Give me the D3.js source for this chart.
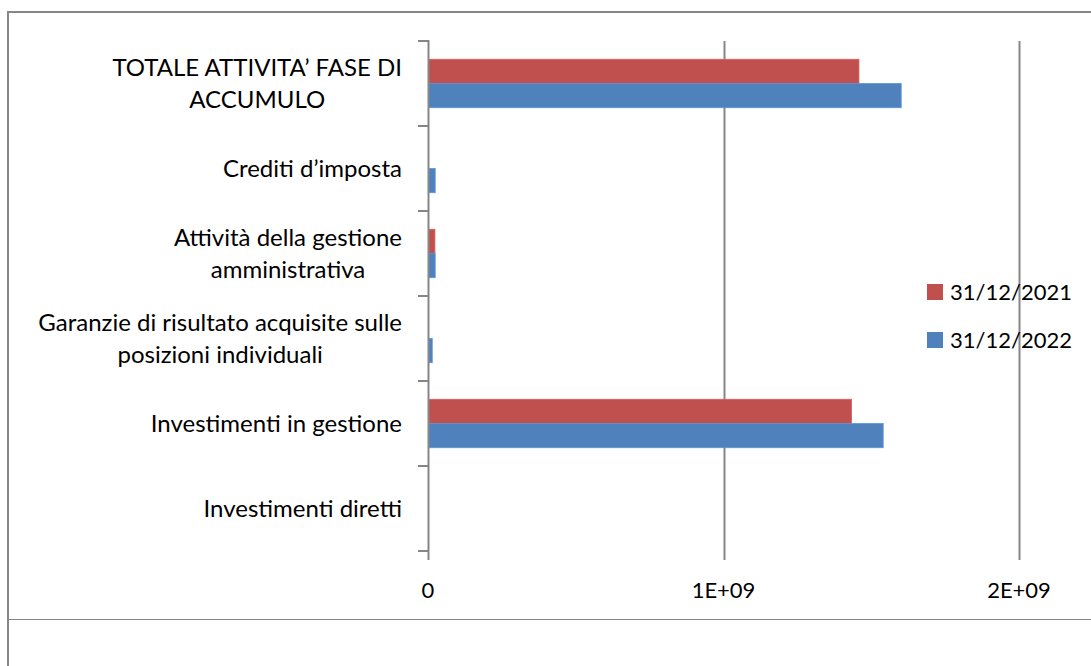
<!DOCTYPE html>
<html>
<head>
<meta charset="utf-8">
<script src="https://cdn.jsdelivr.net/npm/d3@7"></script>
<style>
  body { margin: 0; background: #fff; }
  svg { display: block; }
  text { font-family: Lato, "Liberation Sans", sans-serif; fill: #000; }
</style>
</head>
<body>
<svg id="chart"></svg>
<script>
// categories, top to bottom (each label split into its visual lines)
const categories = [
  ['TOTALE ATTIVITA\u2019 FASE DI', 'ACCUMULO'],
  ['Crediti d\u2019imposta'],
  ['Attività della gestione', 'amministrativa'],
  ['Garanzie di risultato acquisite sulle', 'posizioni individuali'],
  ['Investimenti in gestione'],
  ['Investimenti diretti']
];
const seriesNames = ['31/12/2021', '31/12/2022'];
const values2021 = [1.455e9, 0, 2.0e7, 0, 1.43e9, 0];
const values2022 = [1.598e9, 2.1e7, 2.1e7, 1.1e7, 1.537e9, 0];
const xTicks = [0, 1e9, 2e9];
const xTickLabels = ['0', '1E+09', '2E+09'];
const colors = ['#C0504D', '#4F81BD'];

const W = 1091, H = 666;
const grey = '#868686';

const svg = d3.select('#chart').attr('width', W).attr('height', H);

// outer frame (chart area border, cut by the page)
svg.append('line').attr('x1', 8).attr('x2', W).attr('y1', 12).attr('y2', 12)
  .attr('stroke', grey).attr('stroke-width', 2);
svg.append('line').attr('x1', 8).attr('x2', 8).attr('y1', 11).attr('y2', H)
  .attr('stroke', grey).attr('stroke-width', 2);
svg.append('line').attr('x1', 8).attr('x2', W).attr('y1', 619.5).attr('y2', 619.5)
  .attr('stroke', grey).attr('stroke-width', 1);

const plot = { left: 428, right: 1019, top: 41, bottom: 551 };

const x = d3.scaleLinear().domain([0, 2e9]).range([plot.left, plot.right]);
const y = d3.scaleBand().domain(d3.range(categories.length))
  .range([plot.top, plot.bottom]).paddingInner(0.43).paddingOuter(0.215);
const ySub = d3.scaleBand().domain([0, 1]).range([0, y.bandwidth()]);

// gridlines + bottom ticks
svg.append('g').selectAll('line').data(xTicks).join('line')
  .attr('x1', d => Math.round(x(d)) + 0.5).attr('x2', d => Math.round(x(d)) + 0.5)
  .attr('y1', plot.top).attr('y2', plot.bottom + 9)
  .attr('stroke', grey).attr('stroke-width', d => d === 0 ? 0 : 2);

// bars
const data = categories.map((c, i) => [values2021[i], values2022[i]]);
svg.append('g').selectAll('g').data(data).join('g')
  .attr('transform', (d, i) => `translate(0,${y(i)})`)
  .selectAll('rect').data(d => d).join('rect')
  .attr('x', x(0) + 1)
  .attr('y', (d, j) => ySub(j))
  .attr('width', d => Math.max(0, x(d) - x(0)))
  .attr('height', ySub.bandwidth())
  .attr('fill', (d, j) => colors[j])
  .attr('stroke', (d, j) => d3.color(colors[j]).brighter(0.4))
  .attr('stroke-width', d => d > 0 ? 0.8 : 0);

// vertical axis line and category ticks
const step = (plot.bottom - plot.top) / categories.length;
svg.append('line').attr('x1', plot.left + 0.5).attr('x2', plot.left + 0.5)
  .attr('y1', plot.top - 1).attr('y2', plot.bottom + 9)
  .attr('stroke', grey).attr('stroke-width', 2);
svg.append('g').selectAll('line').data(d3.range(categories.length + 1)).join('line')
  .attr('x1', plot.left - 10).attr('x2', plot.left)
  .attr('y1', i => plot.top + i * step).attr('y2', i => plot.top + i * step)
  .attr('stroke', grey).attr('stroke-width', 2);

// category labels (right aligned block, lines centred)
const labelRight = 402;
const lineH = 32;
const lab = svg.append('g').attr('font-size', 24);
categories.forEach((lines, i) => {
  const cy = plot.top + (i + 0.5) * step;
  const g = lab.append('g');
  const texts = lines.map((t, k) => g.append('text')
    .attr('text-anchor', 'middle')
    .attr('y', cy + (k - (lines.length - 1) / 2) * lineH)
    .attr('dy', '0.35em')
    .text(t));
  const maxW = d3.max(texts, t => t.node().getComputedTextLength());
  texts.forEach(t => t.attr('x', labelRight - maxW / 2));
});

// value tick labels
svg.append('g').attr('font-size', 22).selectAll('text').data(xTicks).join('text')
  .attr('x', d => x(d)).attr('y', 590).attr('dy', '0.35em')
  .attr('text-anchor', 'middle')
  .text((d, i) => xTickLabels[i]);

// legend
const legend = svg.append('g').attr('font-size', 22)
  .selectAll('g').data(seriesNames).join('g')
  .attr('transform', (d, i) => `translate(927,${284 + i * 48})`);
legend.append('rect').attr('width', 16).attr('height', 16)
  .attr('fill', (d, i) => colors[i]);
legend.append('text').attr('x', 23).attr('y', 8).attr('dy', '0.35em').text(d => d);
</script>
</body>
</html>
